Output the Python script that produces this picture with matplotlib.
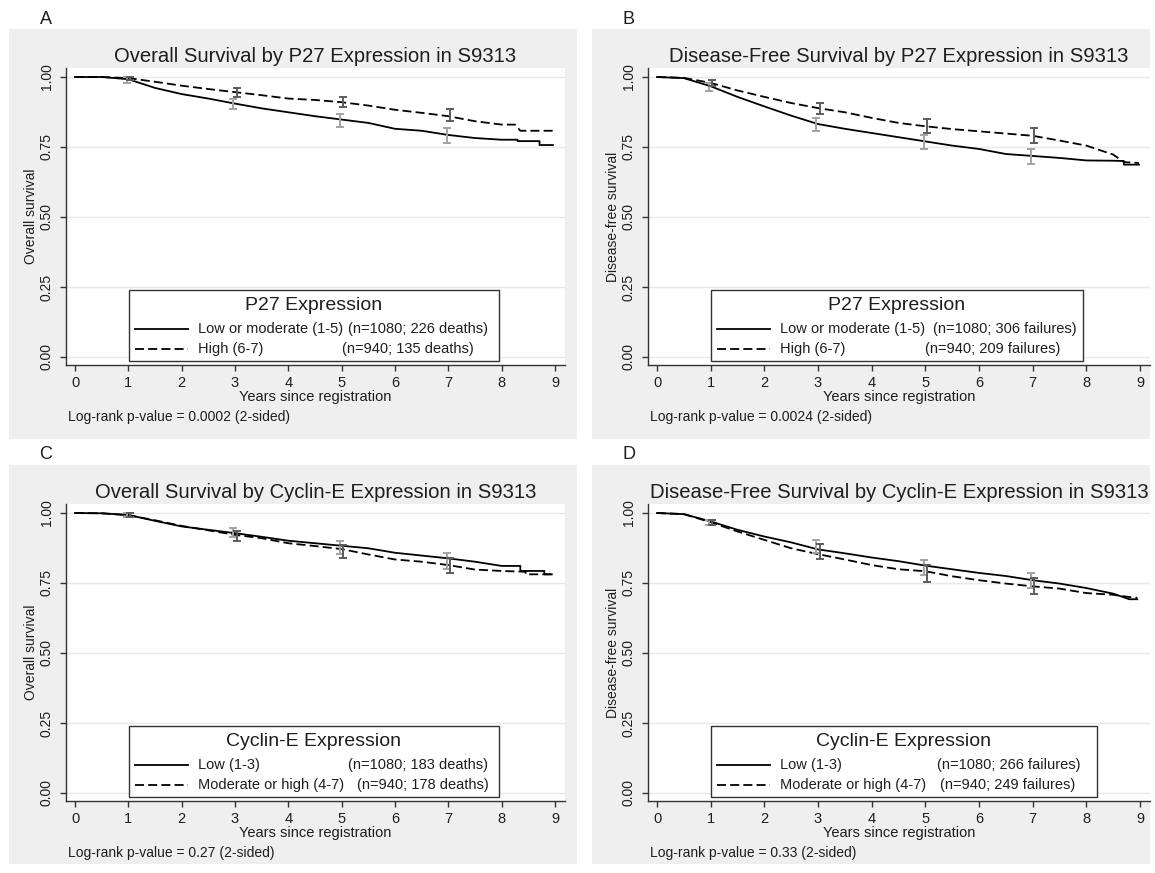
import matplotlib.pyplot as plt
from matplotlib.lines import Line2D
from matplotlib.patches import Rectangle

plt.rcParams['font.family'] = ['Liberation Sans', 'DejaVu Sans']

W, H = 1155, 873

# common time grid (years) used for the read-off survival estimates
years = [0, 0.5, 1, 1.5, 2, 2.5, 3, 3.5, 4, 4.5, 5, 5.5, 6, 6.5, 7, 7.5, 8]
ci_years = [1, 3, 5, 7]

# A - overall survival by P27
a_low_t = years + [8.3, 8.3, 8.71, 8.71, 8.96]
a_low_s = [1.0, 1.0, 0.992, 0.961, 0.939, 0.923, 0.905, 0.888, 0.874, 0.860, 0.848,
           0.836, 0.815, 0.808, 0.793, 0.782, 0.776, 0.776, 0.771, 0.771, 0.757, 0.757]
a_high_t = years + [8.25, 8.35, 8.96]
a_high_s = [1.0, 1.0, 0.996, 0.983, 0.969, 0.957, 0.946, 0.935, 0.923, 0.918, 0.910,
            0.898, 0.883, 0.872, 0.860, 0.842, 0.830, 0.830, 0.808, 0.808]
a_low_ci = [(0.980, 1.000), (0.887, 0.921), (0.820, 0.868), (0.764, 0.818)]
a_high_ci = [(0.990, 1.000), (0.930, 0.961), (0.892, 0.927), (0.844, 0.887)]

# B - disease-free survival by P27
b_low_t = years + [8.5, 8.7, 8.7, 8.98]
b_low_s = [1.0, 0.996, 0.967, 0.929, 0.895, 0.862, 0.832, 0.815, 0.800, 0.785, 0.770,
           0.755, 0.743, 0.725, 0.718, 0.711, 0.702, 0.701, 0.700, 0.687, 0.687]
b_high_t = years + [8.5, 8.7, 8.98]
b_high_s = [1.0, 0.997, 0.979, 0.952, 0.929, 0.907, 0.889, 0.874, 0.854, 0.836, 0.824,
            0.814, 0.806, 0.798, 0.790, 0.773, 0.755, 0.723, 0.696, 0.693]
b_low_ci = [(0.949, 0.979), (0.808, 0.854), (0.743, 0.794), (0.689, 0.743)]
b_high_ci = [(0.967, 0.988), (0.869, 0.907), (0.800, 0.850), (0.764, 0.818)]

# C - overall survival by Cyclin-E
c_low_t = years + [8.35, 8.35, 8.8, 8.8, 8.94]
c_low_s = [1.0, 0.999, 0.993, 0.972, 0.952, 0.940, 0.928, 0.915, 0.901, 0.892, 0.883,
           0.874, 0.858, 0.848, 0.838, 0.826, 0.811, 0.811, 0.793, 0.793, 0.781, 0.781]
c_high_t = years + [8.45, 8.45, 8.94]
c_high_s = [1.0, 0.999, 0.992, 0.974, 0.954, 0.938, 0.922, 0.910, 0.892, 0.882, 0.871,
            0.852, 0.834, 0.826, 0.814, 0.798, 0.793, 0.790, 0.781, 0.781]
c_low_ci = [(0.986, 1.000), (0.913, 0.946), (0.853, 0.901), (0.799, 0.858)]
c_high_ci = [(0.985, 0.999), (0.901, 0.934), (0.841, 0.887), (0.787, 0.840)]

# D - disease-free survival by Cyclin-E
d_low_t = years + [8.5, 8.8, 8.95]
d_low_s = [1.0, 0.996, 0.970, 0.940, 0.916, 0.895, 0.870, 0.856, 0.841, 0.828, 0.812,
           0.799, 0.786, 0.775, 0.760, 0.748, 0.732, 0.712, 0.692, 0.692]
d_high_t = years + [8.5, 8.8, 8.95]
d_high_s = [1.0, 0.996, 0.967, 0.934, 0.904, 0.874, 0.853, 0.834, 0.814, 0.799, 0.792,
            0.774, 0.760, 0.748, 0.738, 0.730, 0.714, 0.708, 0.700, 0.697]
d_low_ci = [(0.956, 0.976), (0.858, 0.903), (0.778, 0.832), (0.733, 0.787)]
d_high_ci = [(0.956, 0.974), (0.837, 0.889), (0.754, 0.816), (0.709, 0.769)]

letters = ['A', 'B', 'C', 'D']
titles = ['Overall Survival by P27 Expression in S9313',
          'Disease-Free Survival by P27 Expression in S9313',
          'Overall Survival by Cyclin-E Expression in S9313',
          'Disease-Free Survival by Cyclin-E Expression in S9313']
ylabels = ['Overall survival', 'Disease-free survival',
           'Overall survival', 'Disease-free survival']
legend_titles = ['P27 Expression', 'P27 Expression',
                 'Cyclin-E Expression', 'Cyclin-E Expression']
group_labels = [['Low or moderate (1-5)', 'High (6-7)'],
                ['Low or moderate (1-5)', 'High (6-7)'],
                ['Low (1-3)', 'Moderate or high (4-7)'],
                ['Low (1-3)', 'Moderate or high (4-7)']]
group_counts = [['(n=1080; 226 deaths)', '(n=940; 135 deaths)'],
                ['(n=1080; 306 failures)', '(n=940; 209 failures)'],
                ['(n=1080; 183 deaths)', '(n=940; 178 deaths)'],
                ['(n=1080; 266 failures)', '(n=940; 249 failures)']]
pvalues = ['0.0002', '0.0024', '0.27', '0.33']

curves = [(a_low_t, a_low_s, a_high_t, a_high_s, a_low_ci, a_high_ci),
          (b_low_t, b_low_s, b_high_t, b_high_s, b_low_ci, b_high_ci),
          (c_low_t, c_low_s, c_high_t, c_high_s, c_low_ci, c_high_ci),
          (d_low_t, d_low_s, d_high_t, d_high_s, d_low_ci, d_high_ci)]

BG = '#efefef'
GRID = '#e8e8e8'
AXC = '#333333'
TXT = '#1e1e1e'
DASH = (5, 2.3)


def fx(x):
    return x / W


def fy(y):
    return 1 - y / H


fig = plt.figure(figsize=(W / 100, H / 100), dpi=100)

# pixel layout of each panel
col_x0 = [75, 657]
col_x9 = [555, 1140]
col_box = [(9, 577), (592, 1150)]
row_off = [0, 436]
row_box = [(29, 439), (465, 864)]
leg_width = [370, 372, 370, 386]
# x offset (from the 0 tick) where the "(n=...)" column starts, per entry
count_x = [(273, 267), (276, 268), (273, 282), (280, 283)]

XL = (-0.17, 9.19)
YL = (-0.03, 1.032)

for i in range(4):
    r, c = divmod(i, 2)
    off = row_off[r]
    x0, x9 = col_x0[c], col_x9[c]
    y1, y0 = 77 + off, 357 + off

    # gray panel background
    bx, by = col_box[c], row_box[r]
    fig.add_artist(Rectangle((fx(bx[0]), fy(by[1])), (bx[1] - bx[0]) / W,
                             (by[1] - by[0]) / H, transform=fig.transFigure,
                             facecolor=BG, edgecolor='none', zorder=-5))
    fig.text(fx(bx[0] + 37), fy(by[0] - 10 if r == 0 else by[0] - 11), letters[i],
             fontsize=13, ha='center', va='center', color=TXT)

    sx = (x9 - x0) / 9
    sy = (y0 - y1)
    left = x0 + XL[0] * sx
    right = x0 + XL[1] * sx
    top = y0 - YL[1] * sy
    bottom = y0 - YL[0] * sy
    ax = fig.add_axes([fx(left), fy(bottom), (right - left) / W, (bottom - top) / H])
    ax.set_facecolor('white')
    ax.set_xlim(*XL)
    ax.set_ylim(*YL)

    low_t, low_s, high_t, high_s, low_ci, high_ci = curves[i]
    ax.plot(low_t, low_s, color='black', lw=1.3, zorder=2)
    ax.plot(high_t, high_s, color='black', lw=1.3, dashes=DASH, zorder=2)

    for ci, dx, col in [(low_ci, -0.03, '#a3a3a3'), (high_ci, 0.03, '#5c5c5c')]:
        lo = [v[0] for v in ci]
        hi = [v[1] for v in ci]
        mid = [(a + b) / 2 for a, b in ci]
        ax.errorbar([t + dx for t in ci_years], mid,
                    yerr=[[m - a for m, a in zip(mid, lo)], [b - m for m, b in zip(mid, hi)]],
                    fmt='none', ecolor=col, elinewidth=1.4, capsize=3.2,
                    capthick=1.4, zorder=3)

    ax.set_yticks([0, 0.25, 0.5, 0.75, 1.0])
    ax.set_yticklabels(['0.00', '0.25', '0.50', '0.75', '1.00'])
    ax.set_xticks(range(10))
    ax.grid(axis='y', color=GRID, lw=1)
    ax.set_axisbelow(True)
    for s in ['top', 'right']:
        ax.spines[s].set_visible(False)
    for s in ['left', 'bottom']:
        ax.spines[s].set_color(AXC)
        ax.spines[s].set_linewidth(1)
    ax.tick_params(axis='y', labelrotation=90, length=4.3, width=1, color=AXC,
                   pad=4.5, labelsize=10, labelcolor=TXT)
    ax.tick_params(axis='x', length=4.3, width=1, color=AXC, pad=3.5,
                   labelsize=10.5, labelcolor=TXT)
    for lab in ax.get_yticklabels():
        lab.set_va('center')

    ax.set_title(titles[i], fontsize=14.6, pad=4, color=TXT)
    ax.set_xlabel('Years since registration', fontsize=10.5, labelpad=0, color=TXT)
    ax.set_ylabel(ylabels[i], fontsize=10, labelpad=1, color=TXT)

    # legend box drawn in pixel positions
    lx = x0 + 54
    lw_ = leg_width[i]
    fig.add_artist(Rectangle((fx(lx), fy(361 + off)), lw_ / W, 71 / H,
                             transform=fig.transFigure, facecolor='white',
                             edgecolor='#333333', lw=1, zorder=4))
    fig.text(fx(lx + lw_ / 2), fy(306 + off), legend_titles[i], fontsize=14,
             ha='center', va='center', color=TXT, zorder=5)
    for k, ey in enumerate([329, 349]):
        key = Line2D([fx(x0 + 60), fx(x0 + 113)], [fy(ey + off)] * 2,
                     color='black', lw=1.3, transform=fig.transFigure, zorder=5)
        if k == 1:
            key.set_dashes(DASH)
        fig.add_artist(key)
        fig.text(fx(x0 + 123), fy(ey + off), group_labels[i][k], fontsize=10.5,
                 ha='left', va='center', color=TXT, zorder=5)
        fig.text(fx(x0 + count_x[i][k]), fy(ey + off), group_counts[i][k],
                 fontsize=10.5, ha='left', va='center', color=TXT, zorder=5)

    fig.text(fx(x0 - 7), fy(417 + off), f'Log-rank p-value = {pvalues[i]} (2-sided)',
             fontsize=10, ha='left', va='center', color=TXT)

fig.savefig('out.png', dpi=100)
